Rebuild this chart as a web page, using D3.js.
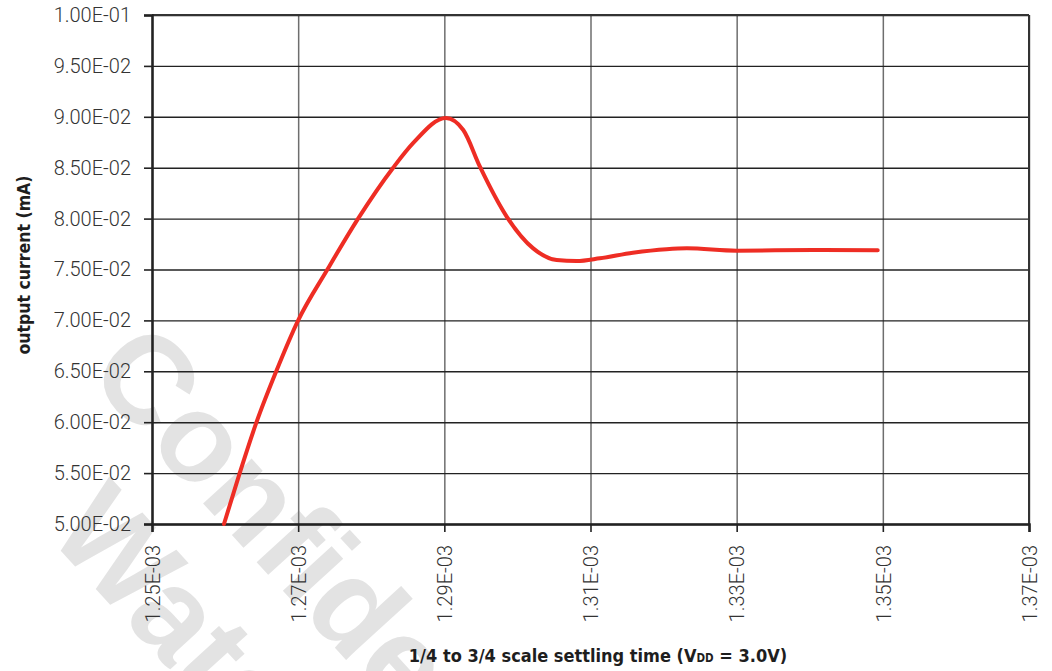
<!DOCTYPE html>
<html>
<head>
<meta charset="utf-8">
<script src="https://cdn.jsdelivr.net/npm/d3@7"></script>
<style>
  body { margin: 0; background: #fff; }
  svg { display: block; }
  .tick text { font-family: Roboto, "DejaVu Sans Condensed", sans-serif; font-weight: 300; font-size: 20px; fill: #333; }
  .lbl { font-family: "DejaVu Sans Condensed", "DejaVu Sans", sans-serif; font-weight: bold; fill: #1e1e1e; }
  .wm { font-family: "Liberation Sans", Arial, sans-serif; font-weight: bold; font-size: 125px; fill: #e3e3e3; }
</style>
</head>
<body>
<svg id="chart" width="1052" height="671"></svg>
<script>
// settling time (s) and output current
let timeSec = [1.25985e-3, 1.2620e-3, 1.2643e-3, 1.2670e-3, 1.2700e-3, 1.2740e-3, 1.2782e-3, 1.2830e-3,
               1.28575e-3, 1.29022e-3, 1.29259e-3, 1.29487e-3, 1.29853e-3, 1.30212e-3, 1.30537e-3,
               1.3081e-3, 1.31128e-3, 1.3158e-3, 1.3204e-3, 1.3232e-3, 1.3300e-3, 1.3405e-3, 1.3493e-3]
let current = [0.0500, 0.0550, 0.0600, 0.0650, 0.0700, 0.0750, 0.0800, 0.0850,
               0.08743, 0.08988, 0.0887, 0.0851, 0.0802, 0.0771, 0.07593,
               0.07583, 0.0761, 0.07665, 0.0770, 0.07708, 0.07685, 0.07692, 0.0769]

let xTicks = [1.25e-3, 1.27e-3, 1.29e-3, 1.31e-3, 1.33e-3, 1.35e-3, 1.37e-3]
let yTicks = [0.05, 0.055, 0.06, 0.065, 0.07, 0.075, 0.08, 0.085, 0.09, 0.095, 0.1]

let svg = d3.select("#chart")
let mLeft = 152, mTop = 15, mRight = 1029, mBottom = 524
let w = mRight - mLeft, h = mBottom - mTop

// "1.25E-03" style
function sci(v) {
    let s = v.toExponential(2).toUpperCase()
    return s.replace(/E([+-])(\d)$/, "E$10$2")
}

// watermark behind everything
let wm = svg.append("g").attr("transform", "translate(85,374) rotate(47.6)")
wm.append("text").attr("class", "wm").attr("x", 0).attr("y", 0).text("Confidential")
wm.append("text").attr("class", "wm").attr("x", 92).attr("y", 137).text("Watermark")

let xScale = d3.scaleLinear().domain([1.25e-3, 1.37e-3]).range([0, w])
let yScale = d3.scaleLinear().domain([0.05, 0.1]).range([h, 0])

let body = svg.append("g").attr("transform", "translate(" + mLeft + "," + mTop + ")")

// vertical grid
body.append("g")
    .attr("transform", "translate(0," + h + ")")
    .call(d3.axisBottom(xScale).tickValues(xTicks).tickSize(-h).tickFormat(""))
    .call(g => g.select(".domain").remove())
    .call(g => g.selectAll("line").attr("stroke", "#6e6e6e").attr("stroke-width", 1.5))

// horizontal grid
body.append("g")
    .call(d3.axisLeft(yScale).tickValues(yTicks).tickSize(-w).tickFormat(""))
    .call(g => g.select(".domain").remove())
    .call(g => g.selectAll("line").attr("stroke", "#222").attr("stroke-width", 1.4))

// border top / right
body.append("line").attr("x1", 0).attr("x2", w).attr("y1", 0).attr("y2", 0)
    .attr("stroke", "#333").attr("stroke-width", 2)
body.append("line").attr("x1", w).attr("x2", w).attr("y1", 0).attr("y2", h)
    .attr("stroke", "#333").attr("stroke-width", 2)

// y axis
body.append("g")
    .call(d3.axisLeft(yScale).tickValues(yTicks).tickSize(8).tickPadding(13).tickFormat(sci))
    .call(g => g.select(".domain").attr("stroke", "#222").attr("stroke-width", 2.5))
    .call(g => g.selectAll(".tick line").attr("stroke", "#222").attr("stroke-width", 1.6))
    .call(g => g.selectAll(".tick text").attr("font-family", null).attr("font-size", null))

// x axis
body.append("g")
    .attr("transform", "translate(0," + h + ")")
    .call(d3.axisBottom(xScale).tickValues(xTicks).tickSize(8).tickFormat(sci))
    .call(g => g.select(".domain").attr("stroke", "#222").attr("stroke-width", 2.5))
    .call(g => g.selectAll(".tick line").attr("stroke", "#222").attr("stroke-width", 1.6))
    .call(g => g.selectAll(".tick text")
        .attr("font-family", null).attr("font-size", null)
        .attr("transform", "rotate(-90)")
        .attr("x", -21).attr("y", 0).attr("dy", "0.36em")
        .attr("text-anchor", "end"))

// curve
let data = timeSec.map((t, i) => ({ t: t, v: current[i] }))
let valueLine = d3.line()
    .x(d => xScale(d.t))
    .y(d => yScale(d.v))
    .curve(d3.curveMonotoneX)
body.append("path")
    .datum(data)
    .attr("d", valueLine)
    .attr("fill", "none")
    .attr("stroke", "#ee2d24")
    .attr("stroke-width", 4)
    .attr("stroke-linecap", "round")

// axis titles
svg.append("text").attr("class", "lbl")
    .attr("transform", "translate(30,265) rotate(-90)")
    .attr("text-anchor", "middle")
    .attr("font-size", 17.5)
    .text("output current (mA)")

let xt = svg.append("text").attr("class", "lbl")
    .attr("x", 598).attr("y", 662)
    .attr("text-anchor", "middle")
    .attr("font-size", 18)
xt.append("tspan").text("1/4 to 3/4 scale settling time (V")
xt.append("tspan").attr("font-size", 11.5).text("DD")
xt.append("tspan").text(" = 3.0V)")
</script>
</body>
</html>
